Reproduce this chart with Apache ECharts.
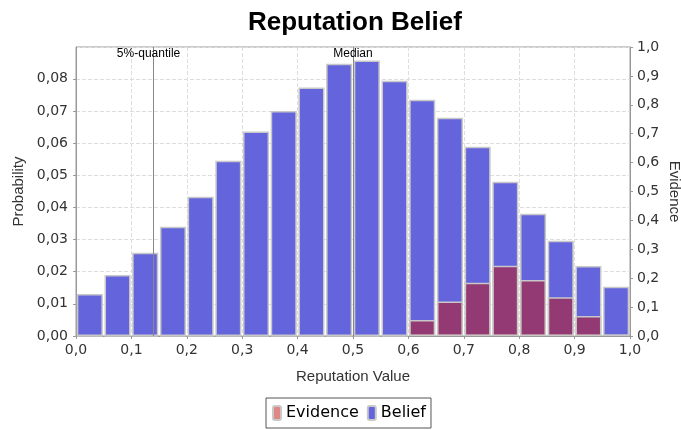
<!DOCTYPE html>
<html>
<head>
<meta charset="utf-8">
<script src="https://cdn.jsdelivr.net/npm/echarts@6/dist/echarts.min.js"></script>
<style>
  html, body { margin: 0; padding: 0; background: #fff; }
  #chart { width: 681px; height: 430px; }
</style>
</head>
<body>
<div id="chart"></div>
<script>
// bins of width 0.05 from 0.0 to 1.0
const bins = ["0.00", "0.05", "0.10", "0.15", "0.20", "0.25", "0.30", "0.35", "0.40", "0.45",
              "0.50", "0.55", "0.60", "0.65", "0.70", "0.75", "0.80", "0.85", "0.90", "0.95"];
const belief = [0.0131, 0.0190, 0.0259, 0.0340, 0.0433, 0.0545, 0.0636, 0.0700, 0.0773, 0.0847,
                0.0857, 0.0794, 0.0735, 0.0679, 0.0589, 0.0480, 0.0380, 0.0296, 0.0218, 0.0153];
const evidence = [0, 0, 0, 0, 0, 0, 0, 0, 0, 0,
                  0, 0, 0.055, 0.119, 0.184, 0.243, 0.194, 0.134, 0.069, 0.005];
const quantile5 = 0.135;
const median = 0.5;

const SANS = "Liberation Sans, Arial, sans-serif";
const TICKS = "DejaVu Sans, sans-serif";
const comma = (v, d) => v.toFixed(d).replace(".", ",");

const chart = echarts.init(document.getElementById("chart"));

const option = {
  animation: false,
  textStyle: { fontFamily: SANS },
  title: {
    text: "Reputation Belief",
    left: 243,
    top: 5,
    textStyle: { fontFamily: SANS, fontSize: 26, fontWeight: "bold", color: "#000" },
  },
  legend: {
    data: ["Evidence", "Belief"],
    left: 266,
    top: 398,
    itemWidth: 8,
    itemHeight: 14,
    itemGap: 8,
    padding: [7, 5, 7, 6],
    borderColor: "#555",
    borderWidth: 1,
    textStyle: { fontFamily: TICKS, fontSize: 16, color: "#000" },
  },
  grid: {
    left: 76,
    right: 51,
    top: 47,
    bottom: 94,
    containLabel: false,
    outerBoundsMode: "none",
    show: true,
    borderColor: "#999",
    borderWidth: 1,
  },
  xAxis: [
    {
      type: "category",
      data: bins,
      show: false,
      boundaryGap: true,
    },
    {
      type: "value",
      min: 0,
      max: 1,
      interval: 0.1,
      position: "bottom",
      name: "Reputation Value",
      nameLocation: "middle",
      nameGap: 33,
      nameTextStyle: { fontFamily: SANS, fontSize: 15, color: "#333" },
      axisLine: { lineStyle: { color: "#999" } },
      axisTick: { show: true, length: 3, lineStyle: { color: "#999" } },
      axisLabel: { formatter: (v) => comma(v, 1), color: "#333", fontFamily: TICKS, fontSize: 14, margin: 7 },
      splitLine: { show: true, lineStyle: { color: "#ddd", type: "dashed" } },
    },
  ],
  yAxis: [
    {
      type: "value",
      min: 0,
      max: 0.0899,
      interval: 0.01,
      name: "Probability",
      nameLocation: "middle",
      nameGap: 46,
      nameTextStyle: { fontFamily: SANS, fontSize: 15, color: "#333" },
      axisLine: { show: true, lineStyle: { color: "#999" } },
      axisTick: { show: true, length: 3, lineStyle: { color: "#999" } },
      axisLabel: {
        formatter: (v) => (v > 0.085 ? "" : comma(v, 2)),
        color: "#333", fontFamily: TICKS, fontSize: 14, margin: 8, showMaxLabel: false,
      },
      splitLine: { show: true, lineStyle: { color: "#ddd", type: "dashed" } },
    },
    {
      type: "value",
      min: 0,
      max: 1,
      interval: 0.1,
      position: "right",
      name: "Evidence",
      nameLocation: "middle",
      nameGap: 44,
      nameRotate: -90,
      nameMoveOverlap: false,
      nameTextStyle: { fontFamily: SANS, fontSize: 15, color: "#333", align: "center", verticalAlign: "middle" },
      axisLine: { show: true, lineStyle: { color: "#999" } },
      axisTick: { show: true, length: 3, lineStyle: { color: "#999" } },
      axisLabel: { formatter: (v) => comma(v, 1), color: "#333", fontFamily: TICKS, fontSize: 14, margin: 7 },
      splitLine: { show: false },
    },
  ],
  series: [
    {
      name: "Belief",
      type: "bar",
      xAxisIndex: 0,
      yAxisIndex: 0,
      data: belief,
      barCategoryGap: "6%",
      barGap: "-100%",
      z: 2,
      itemStyle: { color: "#6464dc", borderColor: "#c8c8c8", borderWidth: 1.5 },
    },
    {
      name: "Evidence",
      type: "bar",
      xAxisIndex: 0,
      yAxisIndex: 1,
      data: evidence,
      barCategoryGap: "6%",
      barGap: "-100%",
      z: 3,
      itemStyle: { color: "rgba(194,16,14,0.5)", borderColor: "#c8c8c8", borderWidth: 1.5 },
    },
    {
      name: "markers",
      type: "line",
      xAxisIndex: 1,
      yAxisIndex: 0,
      data: [],
      markLine: {
        silent: true,
        symbol: "none",
        lineStyle: { color: "#888", type: "solid", width: 1 },
        label: {
          position: "end",
          distance: -13,
          color: "#000",
          fontSize: 12,
          fontFamily: SANS,
        },
        data: [
          { xAxis: quantile5, label: { formatter: "5%-quantile", offset: [-5, 0] } },
          { xAxis: median, label: { formatter: "Median" } },
        ],
      },
    },
  ],
};

chart.setOption(option);
</script>
</body>
</html>
